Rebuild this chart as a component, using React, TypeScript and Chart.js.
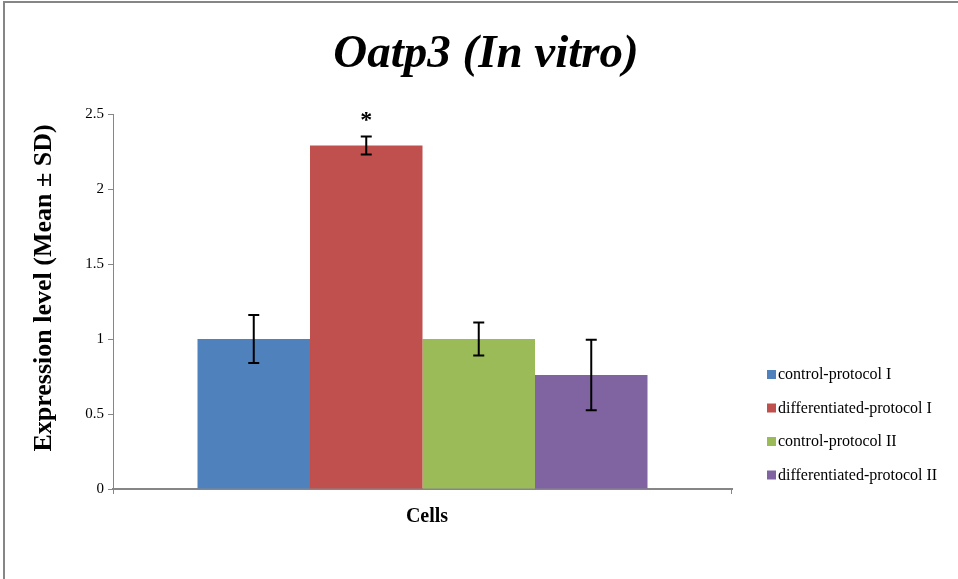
import React, { useEffect, useRef } from "react";
import { Chart, registerables } from "chart.js";

Chart.register(...registerables);

const categories = ["Cells"];
const seriesNames = [
  "control-protocol I",
  "differentiated-protocol I",
  "control-protocol II",
  "differentiated-protocol II",
];
const seriesMeans = [1.0, 2.29, 1.0, 0.76];
const seriesSD = [0.16, 0.06, 0.11, 0.235];
const seriesColors = ["#4F81BD", "#C0504D", "#9BBB59", "#8064A2"];
const significance = ["", "*", "", ""];
const yTicks = [0, 0.5, 1, 1.5, 2, 2.5];
const yTickLabels = ["0", "0.5", "1", "1.5", "2", "2.5"];
const chartTitle = "Oatp3 (In vitro)";
const yTitle = "Expression level (Mean \u00B1 SD)";
const xTitle = "Cells";

const SERIF = "'Liberation Serif', 'Times New Roman', serif";

const overlayPlugin = {
  id: "overlay",
  afterDatasetsDraw(chart: any) {
    const ctx = chart.ctx;
    const y = chart.scales.y;
    ctx.save();
    chart.data.datasets.forEach((ds: any, i: number) => {
      const meta = chart.getDatasetMeta(i);
      meta.data.forEach((bar: any, j: number) => {
        const mean = ds.data[j];
        const sd = seriesSD[i];
        const x = bar.x;
        const top = y.getPixelForValue(mean + sd);
        const bot = y.getPixelForValue(mean - sd);
        ctx.strokeStyle = "#000";
        ctx.lineWidth = 2;
        ctx.beginPath();
        ctx.moveTo(x, top);
        ctx.lineTo(x, bot);
        ctx.moveTo(x - 5.5, top);
        ctx.lineTo(x + 5.5, top);
        ctx.moveTo(x - 5.5, bot);
        ctx.lineTo(x + 5.5, bot);
        ctx.stroke();
        if (significance[i]) {
          ctx.fillStyle = "#000";
          ctx.font = `bold 24px ${SERIF}`;
          ctx.textAlign = "center";
          ctx.textBaseline = "middle";
          ctx.fillText(significance[i], x, top - 16);
        }
      });
    });
    ctx.restore();
  },
  afterDraw(chart: any) {
    const ctx = chart.ctx;
    const area = chart.chartArea;
    ctx.save();
    ctx.fillStyle = "#000";
    ctx.font = `italic bold 47px ${SERIF}`;
    ctx.textAlign = "center";
    ctx.textBaseline = "alphabetic";
    ctx.fillText(chartTitle, 486, 67);
    ctx.font = `bold 20px ${SERIF}`;
    ctx.fillText(xTitle, 427, 522);
    ctx.save();
    ctx.translate(44, 288);
    ctx.rotate(-Math.PI / 2);
    ctx.font = `bold 26px ${SERIF}`;
    ctx.textBaseline = "middle";
    ctx.fillText(yTitle, 0, 0);
    ctx.restore();
    ctx.font = `16px ${SERIF}`;
    ctx.textAlign = "left";
    ctx.textBaseline = "middle";
    seriesNames.forEach((name, i) => {
      const cy = 375 + i * 33.5;
      ctx.fillStyle = seriesColors[i];
      ctx.fillRect(767, cy - 5, 9, 9);
      ctx.fillStyle = "#000";
      ctx.fillText(name, 778, cy);
    });
    ctx.strokeStyle = "#868686";
    ctx.lineWidth = 1;
    ctx.beginPath();
    ctx.moveTo(area.left + 0.5, area.bottom);
    ctx.lineTo(area.left + 0.5, area.bottom + 5);
    ctx.moveTo(area.right - 0.5, area.bottom);
    ctx.lineTo(area.right - 0.5, area.bottom + 5);
    ctx.stroke();
    ctx.strokeStyle = "#868686";
    ctx.lineWidth = 2;
    ctx.beginPath();
    ctx.moveTo(4, 579);
    ctx.lineTo(4, 2);
    ctx.lineTo(958, 2);
    ctx.stroke();
    ctx.restore();
  },
};

export default function App() {
  const ref = useRef<HTMLCanvasElement>(null);
  useEffect(() => {
    document.body.style.margin = "0";
    const canvas = ref.current!;
    const chart = new Chart(canvas, {
      type: "bar",
      data: {
        labels: categories,
        datasets: seriesNames.map((name, i) => ({
          label: name,
          data: [seriesMeans[i]],
          backgroundColor: seriesColors[i],
          borderWidth: 0,
          barPercentage: 1,
          categoryPercentage: 450 / 619,
        })),
      },
      options: {
        responsive: false,
        animation: false,
        devicePixelRatio: 1,
        layout: { padding: { top: 114, right: 226, bottom: 0, left: 0 } },
        plugins: {
          legend: { display: false },
          title: { display: false },
          tooltip: { enabled: false },
        },
        scales: {
          x: {
            ticks: { display: false },
            grid: { display: false, drawTicks: false },
            border: { color: "#868686", width: 2 },
            afterFit: (s: any) => {
              s.height = 90;
            },
          },
          y: {
            min: 0,
            max: 2.5,
            afterBuildTicks: (s: any) => {
              s.ticks = yTicks.map((v) => ({ value: v }));
            },
            ticks: {
              color: "#000",
              font: { family: SERIF, size: 15 },
              padding: 4,
              callback: (_v: any, idx: number) => yTickLabels[idx],
            },
            grid: {
              drawOnChartArea: false,
              drawTicks: true,
              tickLength: 5,
              color: "#868686",
            },
            border: { color: "#868686", width: 1 },
            afterFit: (s: any) => {
              s.width = 113;
            },
          },
        },
      },
      plugins: [overlayPlugin],
    });
    return () => chart.destroy();
  }, []);
  return (
    <div style={{ position: "absolute", left: 0, top: 0, width: 958, height: 579, background: "#fff" }}>
      <canvas ref={ref} width={958} height={579} style={{ display: "block" }} />
    </div>
  );
}
